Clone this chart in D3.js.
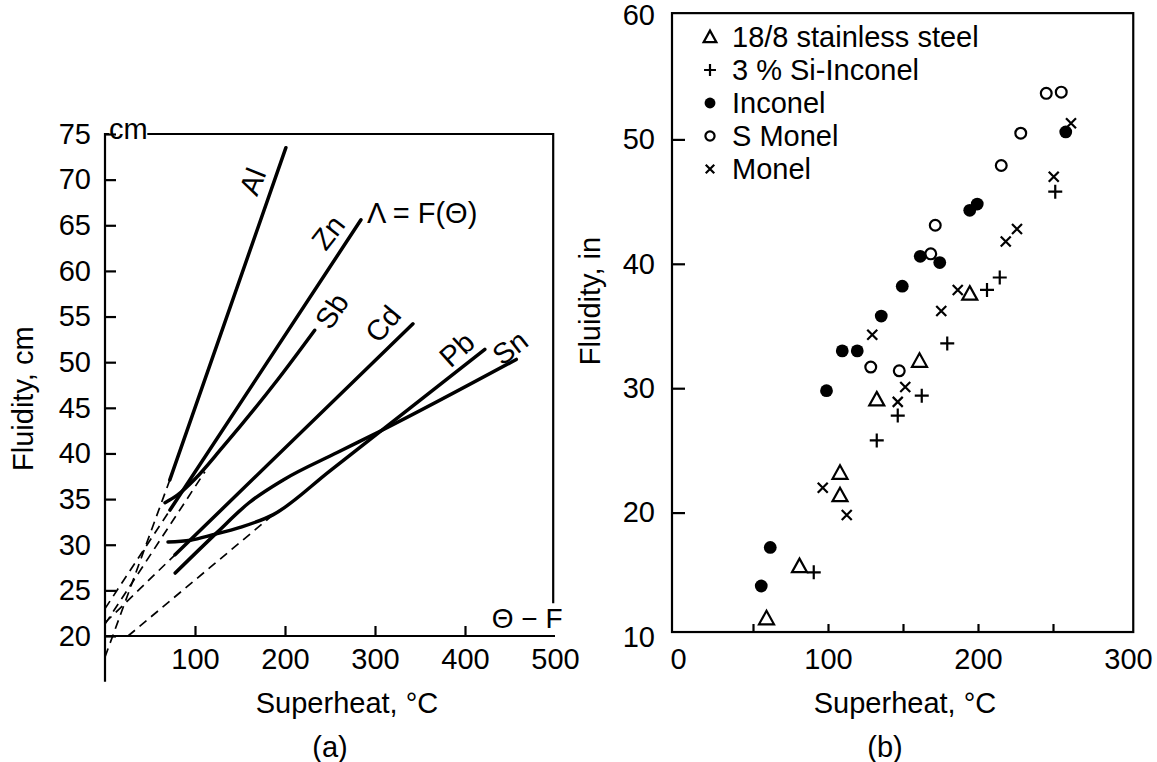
<!DOCTYPE html>
<html lang="en">
<head>
<meta charset="UTF-8" />
<title>Fluidity vs superheat</title>
<script src="https://d3js.org/d3.v7.min.js"></script>
<style>
  body { margin: 0; background: #fff; }
  svg { display: block; background: #fff; font-family: "Liberation Sans", Arial, Helvetica, sans-serif; }
  .axis line, .frame { stroke: #000; stroke-width: 2.2; fill: none; }
  .axis text, .lbl { font-family: "Liberation Sans", Arial, Helvetica, sans-serif; font-size: 29px; fill: #000; }
  .curve { fill: none; stroke: #000; stroke-width: 3.5; stroke-linecap: round; }
  .ext { fill: none; stroke: #000; stroke-width: 1.7; stroke-dasharray: 9 6; }
  .mk { stroke: #000; stroke-width: 2.2; fill: none; }
</style>
</head>
<body>
<svg id="chart" width="1157" height="762"></svg>
<script>
// ---- (a) pure metals: [superheat °C, fluidity cm]
const metals = ["Al", "Zn", "Sb", "Cd", "Pb", "Sn"];
const alCurve = [[72, 37.1], [201, 73.5]];
const znCurve = [[72.2, 33.8], [284.4, 65.6]];
const sbCurve = [[66.7, 34.6], [80, 35.4], [100, 37.2], [130, 40.6], [192, 48.1], [233, 53.5]];
const cdCurve = [[77.8, 28.9], [342.2, 54.2]];
const pbCurve = [[70, 30.3], [95, 30.5], [120, 31.1], [150, 31.9], [187, 33.3], [250, 38.1], [422, 51.4]];
const snCurve = [[78, 26.9], [124, 31.3], [160, 34.6], [198, 37.1], [258, 40.1], [309, 42.6], [457, 50.3]];
// dashed extrapolations toward zero superheat
const alExt = [[0, 17.7], [72, 37.1]];
const znExt = [[0, 23.0], [72.2, 33.8]];
const sbExt = [[0, 21.3], [111, 38.0]];
const cdExt = [[0, 21.45], [77.8, 28.9]];
const pbExt = [[25.6, 20], [187, 33.3]];
const yTicksA = [20, 25, 30, 35, 40, 45, 50, 55, 60, 65, 70, 75];
const xTicksA = [100, 200, 300, 400, 500];

// ---- (b) alloys: [superheat °C, fluidity in]
const seriesNames = ["18/8 stainless steel", "3 % Si-Inconel", "Inconel", "S Monel", "Monel"];
const stainless = [[59, 11.5], [81, 15.7], [108, 23.2], [108, 21.4], [132.5, 29.1], [161, 32.2], [194.5, 37.6]];
const siInconel = [[90.5, 15.2], [132.5, 25.8], [146.5, 27.8], [162.5, 29.4], [179.5, 33.6], [206, 37.9], [214.5, 38.9], [251.5, 45.8]];
const inconel = [[55.5, 14.1], [61.5, 17.2], [99, 29.8], [109.5, 33.0], [119.5, 33.0], [135.5, 35.8], [149.5, 38.2], [161.5, 40.6], [174.5, 40.1], [194.5, 44.3], [199.5, 44.8], [258.5, 50.6]];
const sMonel = [[128.5, 31.7], [147.5, 31.4], [168.5, 40.8], [171.5, 43.1], [215.5, 47.9], [228.5, 50.5], [245.5, 53.7], [255.5, 53.8]];
const monel = [[96.5, 22.0], [112.5, 19.8], [129.5, 34.3], [146.5, 28.9], [151.5, 30.1], [175.5, 36.2], [186.5, 37.9], [218.5, 41.8], [226, 42.8], [250.5, 47.0], [262, 51.3]];
const yTicksB = [10, 20, 30, 40, 50, 60];
const xTicksB = [0, 50, 100, 150, 200, 250, 300];

const svg = d3.select("#chart");

// ================= panel (a)
const xA = d3.scaleLinear().domain([0, 500]).range([105, 555]);
const yA = d3.scaleLinear().domain([20, 75]).range([636, 134]);
const lineA = d3.line().x(d => xA(d[0])).y(d => yA(d[1])).curve(d3.curveMonotoneX);

const gyA = svg.append("g").attr("class", "axis")
  .attr("transform", `translate(${xA(0)},0)`)
  .call(d3.axisLeft(yA).tickValues(yTicksA).tickSize(-11).tickSizeOuter(0).tickPadding(14));
gyA.select(".domain").remove();

const gxA = svg.append("g").attr("class", "axis")
  .attr("transform", `translate(0,${yA(20)})`)
  .call(d3.axisBottom(xA).tickValues(xTicksA).tickSize(-10).tickSizeOuter(0).tickPadding(12));
gxA.select(".domain").remove();
gxA.selectAll(".tick").filter(d => d === 500).select("line").remove();

// frame of (a)
svg.append("path").attr("class", "frame")
  .attr("d", `M${xA(0)},${yA(15)}V${yA(75)}H${xA(4.5)}`);
svg.append("path").attr("class", "frame")
  .attr("d", `M${xA(47)},${yA(75)}H${xA(498)}V${yA(23.6)}`);
svg.append("path").attr("class", "frame")
  .attr("d", `M${xA(0)},${yA(20)}H${xA(500)}`);

[alExt, znExt, sbExt, cdExt, pbExt].forEach(e => {
  svg.append("path").attr("class", "ext").attr("d", d3.line().x(d => xA(d[0])).y(d => yA(d[1]))(e));
});
[alCurve, znCurve, sbCurve, cdCurve, pbCurve, snCurve].forEach(c => {
  svg.append("path").attr("class", "curve").attr("d", lineA(c));
});

// curve labels
const metalLabels = [
  { x: 164, y: 69.8, a: -68 }, { x: 248, y: 64.2, a: -52 }, { x: 252, y: 55.6, a: -56 },
  { x: 309, y: 54.2, a: -50 }, { x: 391, y: 51.4, a: -42 }, { x: 450, y: 51.6, a: -38 }
];
metals.forEach((m, i) => {
  const p = metalLabels[i];
  svg.append("text").attr("class", "lbl")
    .attr("text-anchor", "middle").attr("dominant-baseline", "central")
    .attr("transform", `translate(${xA(p.x)},${yA(p.y)}) rotate(${p.a})`)
    .text(m);
});
svg.append("text").attr("class", "lbl").attr("x", xA(291)).attr("y", yA(65.3)).text("Λ = F(Θ)");
svg.append("text").attr("class", "lbl").attr("x", xA(469)).attr("y", yA(20.9))
  .attr("text-anchor", "middle").style("font-size", "28px").text("Θ − F");
svg.append("text").attr("class", "lbl").attr("x", xA(4.5)).attr("y", yA(74.4)).text("cm");

svg.append("text").attr("class", "lbl").attr("text-anchor", "middle")
  .attr("transform", `translate(33,${yA(46)}) rotate(-90)`).text("Fluidity, cm");
svg.append("text").attr("class", "lbl").attr("text-anchor", "middle")
  .attr("x", 347).attr("y", 713).text("Superheat, °C");
svg.append("text").attr("class", "lbl").attr("text-anchor", "middle")
  .attr("x", 330).attr("y", 757).text("(a)");

// ================= panel (b)
const xB = d3.scaleLinear().domain([0, 300]).range([678, 1128]);
const yB = d3.scaleLinear().domain([10, 60]).range([637, 15]);

svg.append("rect").attr("class", "frame")
  .attr("x", xB(-4)).attr("y", yB(60.15))
  .attr("width", xB(303.5) - xB(-4)).attr("height", yB(10.4) - yB(60.15));

const gyB = svg.append("g").attr("class", "axis")
  .attr("transform", `translate(${xB(-4)},0)`)
  .call(d3.axisLeft(yB).tickValues(yTicksB).tickSize(-13).tickSizeOuter(0).tickPadding(17));
gyB.select(".domain").remove();
gyB.selectAll(".tick").filter(d => d === 10 || d === 60).select("line").remove();

const gxB = svg.append("g").attr("class", "axis")
  .attr("transform", `translate(0,${yB(10.4)})`)
  .call(d3.axisBottom(xB).tickValues(xTicksB).tickSize(-8).tickSizeOuter(0).tickPadding(16)
    .tickFormat(d => d % 100 === 0 ? d : ""));
gxB.select(".domain").remove();
gxB.selectAll(".tick").filter(d => d === 0 || d === 300).select("line").remove();

function marker(g, kind, s) {
  if (kind === "tri") g.append("path").attr("class", "mk").attr("d", `M0,${-7.5 * s}L${7.5 * s},${6 * s}L${-7.5 * s},${6 * s}Z`);
  if (kind === "plus") g.append("path").attr("class", "mk").attr("d", `M${-7 * s},0H${7 * s}M0,${-7 * s}V${7 * s}`);
  if (kind === "cross") g.append("path").attr("class", "mk").attr("d", `M${-5 * s},${-5 * s}L${5 * s},${5 * s}M${5 * s},${-5 * s}L${-5 * s},${5 * s}`);
  if (kind === "dot") g.append("circle").attr("r", 6.4 * s).attr("fill", "#000");
  if (kind === "ring") g.append("circle").attr("class", "mk").attr("r", 5.4 * s);
}

const series = [stainless, siInconel, inconel, sMonel, monel];
const kinds = ["tri", "plus", "dot", "ring", "cross"];
series.forEach((pts, i) => {
  svg.append("g").selectAll("g").data(pts).join("g")
    .attr("transform", d => `translate(${xB(d[0])},${yB(d[1])})`)
    .each(function () { marker(d3.select(this), kinds[i], 1); });
});

// legend
seriesNames.forEach((name, i) => {
  const yy = 37 + i * 33;
  marker(svg.append("g").attr("transform", `translate(710,${yy})`), kinds[i], 0.85);
  svg.append("text").attr("class", "lbl").attr("x", 732).attr("y", yy + 10).text(name);
});

svg.append("text").attr("class", "lbl").attr("text-anchor", "middle")
  .attr("transform", `translate(600,${yB(37)}) rotate(-90)`).text("Fluidity, in");
svg.append("text").attr("class", "lbl").attr("text-anchor", "middle")
  .attr("x", 905).attr("y", 713).text("Superheat, °C");
svg.append("text").attr("class", "lbl").attr("text-anchor", "middle")
  .attr("x", 885).attr("y", 757).text("(b)");
</script>
</body>
</html>
